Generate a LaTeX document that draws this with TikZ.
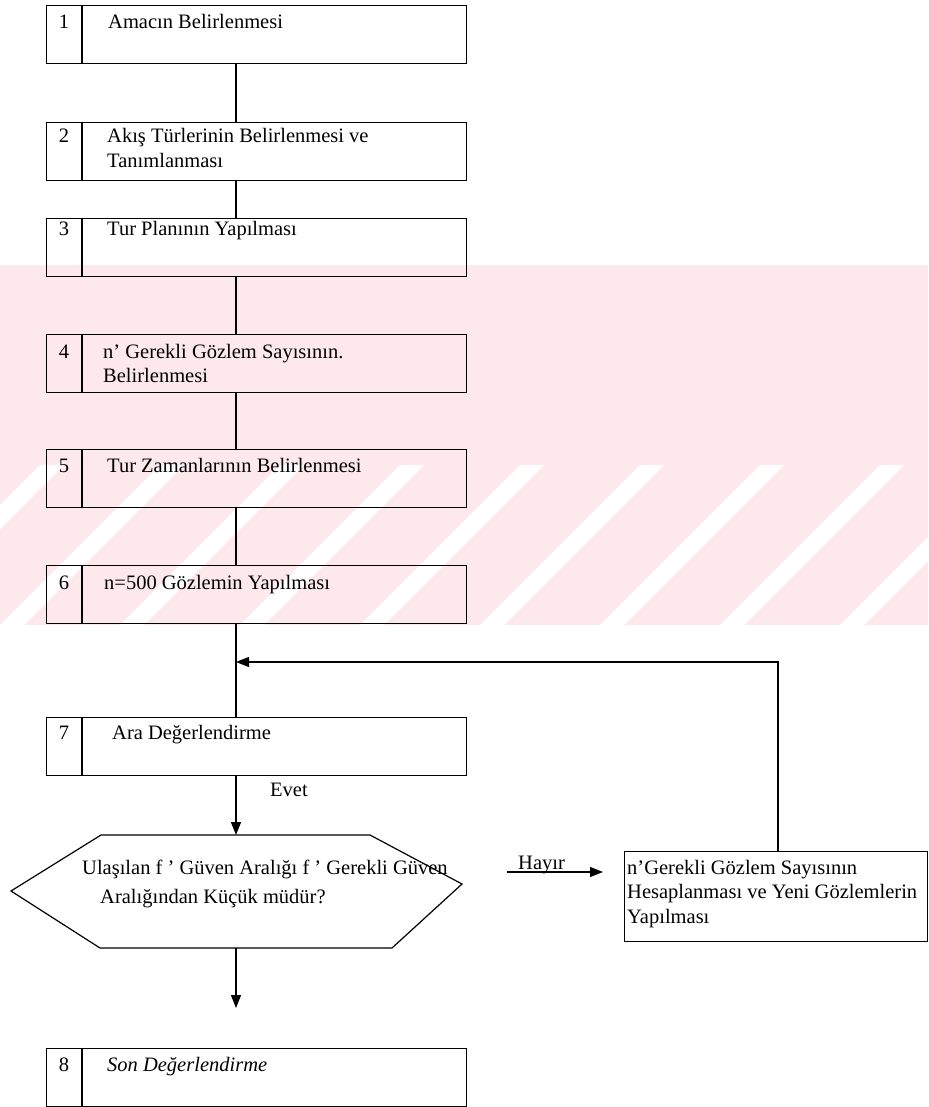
\documentclass[tikz,border=0pt]{standalone}
\usepackage{fontspec}
\setmainfont{Liberation Serif}
\usetikzlibrary{arrows.meta,calc}
\definecolor{wmpink}{RGB}{253,232,236}
\newcommand{\twolines}[2]{\vtop{\hbox{\strut #1}\hbox{\strut #2}}}
\newcommand{\threelines}[3]{\vtop{\hbox{\strut #1}\hbox{\strut #2}\hbox{\strut #3}}}
\begin{document}
\begin{tikzpicture}[x=1pt,y=-1pt,
  stepbox/.style={draw, line width=1.2pt, minimum width=420pt, minimum height=58pt, anchor=north west, inner sep=0pt},
  txt/.style={anchor=base west, inner sep=0pt, font=\fontsize{20.5}{24.5}\selectfont},
  num/.style={anchor=base, inner sep=0pt, font=\fontsize{20.5}{24.5}\selectfont},
  conn/.style={line width=1.2pt},
  arr/.style={conn, -{Triangle[length=13pt,width=10pt]}}]
\useasboundingbox (0,0) rectangle (928,1107);
\fill[white] (0,0) rectangle (928,1107);
% faint watermark
\begin{scope}
  \clip (0,265) rectangle (928,625);
  \fill[wmpink] (0,265) rectangle (928,625);
  \foreach \s in {-120,0,120,240,360,480,600,720,840}
    \fill[white] (\s,625) -- (\s+24,625) -- (\s+184,465) -- (\s+160,465) -- cycle;
\end{scope}
\coordinate (cx) at (236,0);
% step boxes
\node[stepbox] (b1) at (46,5) {};
\node[stepbox] (b2) at (46,122) {};
\node[stepbox] (b3) at (46,218) {};
\node[stepbox] (b4) at (46,334) {};
\node[stepbox] (b5) at (46,449) {};
\node[stepbox] (b6) at (46,565) {};
\node[stepbox] (b7) at (46,717) {};
\node[stepbox] (b8) at (46,1048) {};
\foreach \b in {b1,b2,b3,b4,b5,b6,b7,b8}
  \draw[conn] ($(\b.north west)+(36,0)$) -- ($(\b.south west)+(36,0)$);
% numbers
\node[num] (n1) at (64,29) {1};
\node[num] (n2) at (64,143) {2};
\node[num] (n3) at (64,236) {3};
\node[num] (n4) at (64,358) {4};
\node[num] (n5) at (64,472) {5};
\node[num] (n6) at (64,589) {6};
\node[num] (n7) at (64,739) {7};
\node[num] (n8) at (64,1071) {8};
% texts
\node[txt] (t1) at (108,29) {Amacın Belirlenmesi};
\node[txt] (t2) at (107,143) {\twolines{Akış Türlerinin Belirlenmesi ve}{Tanımlanması}};
\node[txt] (t3) at (107,236) {Tur Planının Yapılması};
\node[txt] (t4) at (103,358) {\twolines{n’ Gerekli Gözlem Sayısının.}{Belirlenmesi}};
\node[txt] (t5) at (107,472) {Tur Zamanlarının Belirlenmesi};
\node[txt] (t6) at (104,589) {n=500 Gözlemin Yapılması};
\node[txt] (t7) at (112,739) {Ara Değerlendirme};
\node[txt] (t8) at (107,1071) {\itshape Son Değerlendirme};
% connectors
\draw[conn] (b1.south -| cx) -- (b2.north -| cx);
\draw[conn] (b2.south -| cx) -- (b3.north -| cx);
\draw[conn] (b3.south -| cx) -- (b4.north -| cx);
\draw[conn] (b4.south -| cx) -- (b5.north -| cx);
\draw[conn] (b5.south -| cx) -- (b6.north -| cx);
\draw[conn] (b6.south -| cx) -- (b7.north -| cx);
% decision hexagon
\coordinate (hL) at (11,891);
\coordinate (hTL) at (101,835);
\coordinate (hTR) at (370,835);
\coordinate (hR) at (462,884);
\coordinate (hBR) at (392,948);
\coordinate (hBL) at (100,948);
\draw[conn] (hL) -- (hTL) -- (hTR) -- (hR) -- (hBR) -- (hBL) -- cycle;
\node[txt] (h1) at (82,874) {Ulaşılan f ’ Güven Aralığı f ’ Gerekli Güven};
\node[txt] (h2) at (100,903) {Aralığından Küçük müdür?};
\draw[arr] (b7.south -| cx) -- (hTL -| cx);
\node[txt] (evet) at (270,796) {Evet};
\coordinate (a8) at (236,1008);
\draw[arr] (hBL -| cx) -- (a8);
% right box
\node[draw, line width=1.2pt, minimum width=303pt, minimum height=90pt, anchor=north west, inner sep=0pt] (rb) at (624,851) {};
\node[txt] (rt) at (627,874) {\threelines{n’Gerekli Gözlem Sayısının}{Hesaplanması ve Yeni Gözlemlerin}{Yapılması}};
\coordinate (hs) at (507,872);
\draw[arr] (hs) -- ($(rb.north west |- hs)+(-21,0)$);
\node[txt] (hayir) at (518,869) {Hayır};
% loop back
\coordinate (lx) at (778,0);
\coordinate (loopin) at (236,662);
\draw[arr] (rb.north -| lx) |- (loopin);
\end{tikzpicture}
\end{document}
